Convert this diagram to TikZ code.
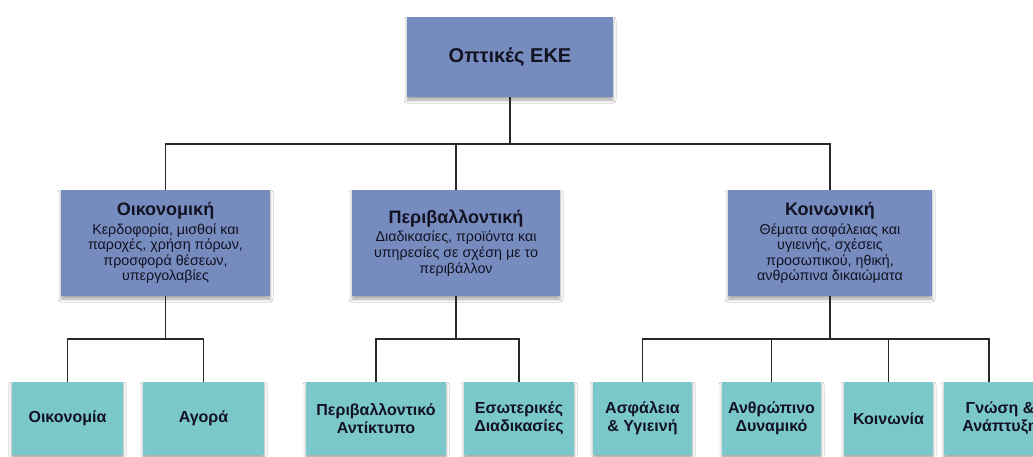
\documentclass[tikz,border=0pt]{standalone}
\usepackage{fontspec}
\setmainfont{Liberation Sans}
\usetikzlibrary{shadows.blur}
\definecolor{bluebox}{RGB}{118,139,190}
\definecolor{tealbox}{RGB}{123,200,203}
\definecolor{txtc}{RGB}{18,18,34}
\definecolor{linec}{RGB}{40,40,40}
\newcommand{\ttlf}{\fontsize{18}{20}\selectfont\bfseries}
\newcommand{\bodyf}{\fontsize{14.3}{15.6}\selectfont}
\begin{document}
\begin{tikzpicture}[x=1pt,y=-1pt,
  shad/.style={blur shadow={shadow xshift=0pt, shadow yshift=-3pt, shadow opacity=35, shadow blur radius=3pt}},
  topbox/.style={shad, fill=bluebox, draw=none, text=txtc, align=center, inner sep=0pt,
    minimum width=206pt, minimum height=80pt, font=\fontsize{20}{22}\selectfont\bfseries},
  midbox/.style={shad, fill=bluebox, draw=none, text=txtc, align=center, inner sep=0pt,
    minimum height=106pt, font=\bodyf},
  leafbox/.style={shad, fill=tealbox, draw=none, text=txtc, align=center, inner sep=0pt,
    minimum height=73pt, font=\fontsize{16}{18}\selectfont\bfseries},
  conn/.style={draw=linec, line width=1.4pt}]
\clip (0,0) rectangle (1033,456);
\fill[white] (0,0) rectangle (1033,456);

% top
\node[topbox] (top) at (510,57) {Οπτικές ΕΚΕ};

% middle level
\node[midbox, minimum width=209pt] (oik) at (165.5,243)
  {{\ttlf Οικονομική}\\[3pt]Κερδοφορία, μισθοί και\\παροχές, χρήση πόρων,\\προσφορά θέσεων,\\υπεργολαβίες};
\node[midbox, minimum width=208pt] (per) at (456,243)
  {{\ttlf Περιβαλλοντική}\\[3pt]Διαδικασίες, προϊόντα και\\υπηρεσίες σε σχέση με το\\περιβάλλον};
\node[midbox, minimum width=204pt] (koi) at (830,243)
  {{\ttlf Κοινωνική}\\[3pt]Θέματα ασφάλειας και\\υγιεινής, σχέσεις\\προσωπικού, ηθική,\\ανθρώπινα δικαιώματα};

% leaves
\node[leafbox, minimum width=111pt] (oikon) at (67.5,418.5) {Οικονομία};
\node[leafbox, minimum width=121pt] (agora) at (203.5,418.5) {Αγορά};
\node[leafbox, minimum width=140pt] (perant) at (376,418.5) {Περιβαλλοντικό\\Αντίκτυπο};
\node[leafbox, minimum width=110pt] (eso) at (519,418.5) {Εσωτερικές\\Διαδικασίες};
\node[leafbox, minimum width=99pt] (asf) at (642.5,418.5) {Ασφάλεια\\\& Υγιεινή};
\node[leafbox, minimum width=99pt] (anth) at (771.5,418.5) {Ανθρώπινο\\Δυναμικό};
\node[leafbox, minimum width=89pt] (koinonia) at (888.5,418.5) {Κοινωνία};
\node[leafbox, minimum width=112pt] (gnosi) at (1000,418.5) {Γνώση \&\\Ανάπτυξη};

% bus coordinates
\coordinate (bus1) at (510,144);
\coordinate (bus2) at (0,339);
\coordinate (gn) at (989,382);

% connectors level 1
\draw[conn] (top.south) -- (bus1);
\draw[conn] (oik.north) |- (bus1) -| (koi.north);
\draw[conn] (per.north) -- (per.north |- bus1);

% connectors level 2
\draw[conn] (oik.south) -- (oik.south |- bus2);
\draw[conn] (oikon.north) |- (agora.north |- bus2) -- (agora.north);
\draw[conn] (per.south) -- (per.south |- bus2);
\draw[conn] (perant.north) |- (eso.north |- bus2) -- (eso.north);
\draw[conn] (koi.south) -- (koi.south |- bus2);
\draw[conn] (asf.north) |- (gn |- bus2) -- (gn);
\draw[conn] (anth.north) -- (anth.north |- bus2);
\draw[conn] (koinonia.north) -- (koinonia.north |- bus2);
\end{tikzpicture}
\end{document}
